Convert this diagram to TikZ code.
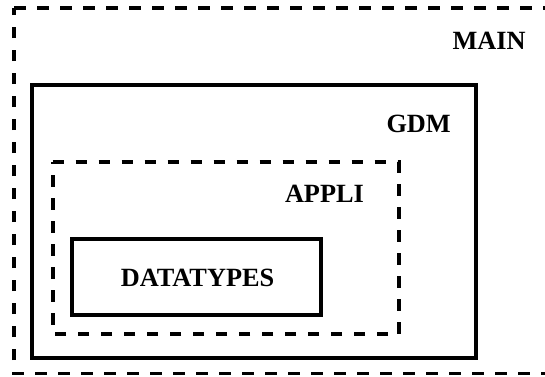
\documentclass[tikz,border=0pt]{standalone}
\usepackage{fontspec}
\setmainfont{Liberation Serif}
\begin{document}
\begin{tikzpicture}[x=1pt,y=-1pt,
  boxline/.style={line width=3.8pt,line join=miter},
  dashline/.style={boxline,dash pattern=on 11.5pt off 11.5pt},
  lbl/.style={anchor=base west,inner sep=0pt,font=\fontsize{26.3}{30}\selectfont\bfseries}]
\useasboundingbox (0,0) rectangle (545,376);
% outer MAIN (dashed)
\coordinate (mainTL) at (14,8);
\coordinate (mainBR) at (549,373.5);
\draw[dashline] (mainTL) -- (mainTL -| mainBR) -- (mainBR) -- (mainBR -| mainTL) -- cycle;
% GDM (solid)
\coordinate (gdmTL) at (32,85.3);
\coordinate (gdmBR) at (476,358);
\draw[boxline] (gdmTL) rectangle (gdmBR);
% APPLI (dashed)
\coordinate (appTL) at (52.7,162);
\coordinate (appBR) at (398.7,334.3);
\draw[dashline] (appTL) -- (appTL -| appBR) -- (appBR) -- (appBR -| appTL) -- cycle;
% DATATYPES (solid)
\coordinate (dtTL) at (72,239.3);
\coordinate (dtBR) at (321.3,315.3);
\draw[boxline] (dtTL) rectangle (dtBR);
% labels
\node[lbl] (mainlbl) at (452.3,49) {MAIN};
\node[lbl] (gdmlbl) at (386.3,132.3) {GDM};
\node[lbl] (applbl) at (284.8,202.3) {APPLI};
\node[lbl] (dtlbl) at (120.6,286.7) {DATATYPES};
\end{tikzpicture}
\end{document}
